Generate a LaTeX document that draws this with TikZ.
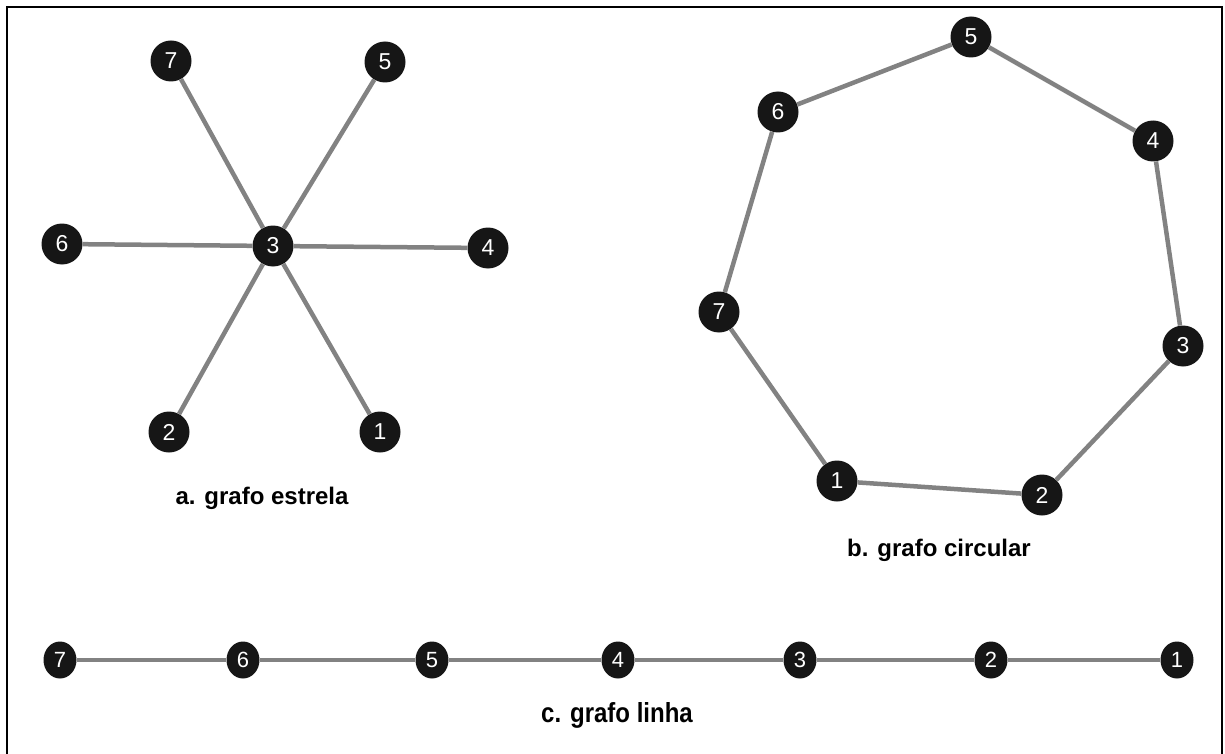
\documentclass[tikz,border=0pt]{standalone}
\usepackage{fontspec}
\setmainfont{Liberation Sans}
\usetikzlibrary{positioning,shapes.geometric}
\definecolor{vertpreto}{RGB}{22,22,22}
\definecolor{arestacinza}{RGB}{130,130,130}
\tikzset{
  vert/.style={circle, fill=vertpreto, text=white, inner sep=0pt, minimum size=41pt,
    font=\fontsize{23}{23}\selectfont},
  vertlinha/.style={ellipse, fill=vertpreto, text=white, inner sep=0pt,
    minimum width=33pt, minimum height=37pt, font=\fontsize{22}{22}\selectfont},
  aresta/.style={draw=arestacinza, line width=4.5pt},
  legenda/.style={font=\bfseries\fontsize{24}{24}\selectfont}
}

\begin{document}
\begin{tikzpicture}[x=1pt,y=-1pt]
        \useasboundingbox (0,0) rectangle (1225,754);
        \draw[line width=1.5pt] (7,760) -- (7,7) -- (1222,7) -- (1222,760);
        % a. estrela
        \node[vert] (e3) at (273,246) {3};
        \node[vert] (e7) at (171,61) {7};
        \node[vert] (e5) at (385,62) {5};
        \node[vert] (e6) at (62,244) {6};
        \node[vert] (e4) at (488,248) {4};
        \node[vert] (e2) at (169,432) {2};
        \node[vert] (e1) at (380,432) {1};
        \foreach \v in {7,5,6,4,2,1}
          \draw[aresta] (e3) -- (e\v);
        \node[legenda] (la) at (262,498) {a. grafo estrela};
        % b. circular
        \node[vert] (c5) at (971,37) {5};
        \node[vert] (c6) at (778,112) {6};
        \node[vert] (c4) at (1153,141) {4};
        \node[vert] (c7) at (719,312) {7};
        \node[vert] (c3) at (1183,346) {3};
        \node[vert] (c1) at (837,481) {1};
        \node[vert] (c2) at (1042,495) {2};
        \draw[aresta] (c1) -- (c2) -- (c3) -- (c4) -- (c5) -- (c6) -- (c7) -- (c1);
        \node[legenda] (lb) at (939,550) {b. grafo circular};
        % c. linha
        \node[vertlinha] (l7) at (60,660) {7};
        \node[vertlinha] (l6) at (243,660) {6};
        \node[vertlinha] (l5) at (432,660) {5};
        \node[vertlinha] (l4) at (618,660) {4};
        \node[vertlinha] (l3) at (800,660) {3};
        \node[vertlinha] (l2) at (991,660) {2};
        \node[vertlinha] (l1) at (1177,660) {1};
        \draw[aresta] (l7) -- (l6) -- (l5) -- (l4) -- (l3) -- (l2) -- (l1);
        \node[legenda, yscale=1.15] (lc) at (617,715) {c. grafo linha};
\end{tikzpicture}
\end{document}
